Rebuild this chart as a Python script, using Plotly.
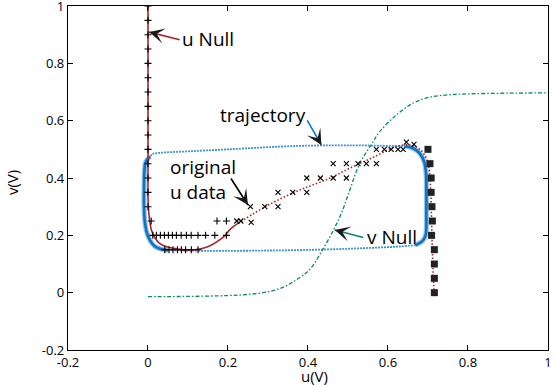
import plotly.graph_objects as go

# ---- u nullcline: solid left branch, dotted middle/right branch ----
unull_solid_u = [0.0, 0.0, 0.0, 0.0, 0.0, 0.001, 0.003, 0.0085, 0.018, 0.029, 0.045, 0.0625,
                 0.08, 0.096, 0.117, 0.1375, 0.16, 0.179, 0.193, 0.204, 0.215, 0.225]
unull_solid_v = [1.0, 0.8, 0.6, 0.4, 0.33, 0.30, 0.265, 0.219, 0.19, 0.172, 0.161, 0.155,
                 0.151, 0.149, 0.150, 0.155, 0.167, 0.184, 0.2, 0.219, 0.232, 0.242]
unull_dot_u = [0.225, 0.3, 0.379, 0.454, 0.504, 0.56, 0.621, 0.655, 0.68, 0.697, 0.704,
               0.707, 0.709, 0.711, 0.713, 0.715]
unull_dot_v = [0.242, 0.305, 0.358, 0.399, 0.434, 0.47, 0.51, 0.515, 0.5, 0.465, 0.42,
               0.35, 0.25, 0.15, 0.07, 0.0]

# ---- v nullcline ----
vnull_u = [0.0, 0.1, 0.2, 0.25, 0.3, 0.34, 0.362, 0.385, 0.407, 0.4375, 0.465, 0.483, 0.5,
           0.53, 0.56, 0.579, 0.621, 0.6625, 0.704, 0.75, 0.7875, 0.9, 1.0]
vnull_v = [-0.014, -0.013, -0.01, -0.006, 0.003, 0.02, 0.037, 0.058, 0.085, 0.152, 0.222,
           0.275, 0.34, 0.452, 0.52, 0.561, 0.62, 0.661, 0.682, 0.69, 0.693, 0.696, 0.697]

# ---- trajectory (limit cycle), split into slow and fast parts ----
traj_left_u = [0.005, -0.006, -0.009, -0.01, -0.01, -0.008, -0.004, 0.004, 0.016, 0.032, 0.05]
traj_left_v = [0.475, 0.455, 0.42, 0.36, 0.30, 0.25, 0.215, 0.185, 0.163, 0.152, 0.148]
traj_bottom_u = [0.05, 0.15, 0.3, 0.45, 0.55, 0.63, 0.668]
traj_bottom_v = [0.148, 0.146, 0.147, 0.151, 0.156, 0.161, 0.166]
traj_right_u = [0.668, 0.686, 0.694, 0.696, 0.696, 0.695, 0.691, 0.68, 0.664, 0.645]
traj_right_v = [0.166, 0.18, 0.2, 0.28, 0.36, 0.42, 0.455, 0.485, 0.503, 0.511]
traj_top_u = [0.645, 0.5, 0.375, 0.2, 0.1, 0.03, 0.012, 0.005]
traj_top_v = [0.511, 0.514, 0.512, 0.5, 0.493, 0.488, 0.484, 0.475]

# ---- original u data ----
plus_u = [0.0] * 15 + [0.008, 0.1725, 0.196] + \
         [0.012, 0.021, 0.031, 0.041, 0.051, 0.061, 0.071, 0.083, 0.096, 0.108, 0.125,
          0.144, 0.167, 0.196] + \
         [0.042, 0.0525, 0.0625, 0.0735, 0.0835, 0.094, 0.1085, 0.125]
plus_v = [1.0, 0.95, 0.9, 0.85, 0.8, 0.75, 0.7, 0.65, 0.6, 0.55, 0.5, 0.45, 0.4, 0.35, 0.3] + \
         [0.25] * 3 + [0.2] * 14 + [0.15] * 8
cross_u = [0.222, 0.232, 0.258,
           0.256, 0.292, 0.325,
           0.325, 0.362, 0.397,
           0.397, 0.431, 0.463, 0.496,
           0.463, 0.496, 0.525, 0.546, 0.571,
           0.571, 0.591, 0.608, 0.625, 0.638,
           0.646, 0.665]
cross_v = [0.25, 0.25, 0.245,
           0.3, 0.3, 0.3,
           0.35, 0.35, 0.35,
           0.4, 0.4, 0.4, 0.4,
           0.45, 0.45, 0.45, 0.45, 0.45,
           0.5, 0.5, 0.5, 0.5, 0.5,
           0.525, 0.517]
square_u = [0.700, 0.705, 0.708, 0.708, 0.710, 0.711, 0.709, 0.716, 0.716, 0.716, 0.716]
square_v = [0.5, 0.45, 0.4, 0.35, 0.3, 0.25, 0.2, 0.15, 0.1, 0.05, 0.0]

# ---- axes ----
tick_vals = [-0.2, 0, 0.2, 0.4, 0.6, 0.8, 1]
tick_text = ["-0.2", "0", "0.2", "0.4", "0.6", "0.8", "1"]

RED = "#a8262b"
GREEN = "#0b8a5c"
BLUE = "#1172c0"
BLUE_LIGHT = "#3e94da"
HEAD = "#1a1a1a"
FONT = "Open Sans"

fig = go.Figure()

# trajectory: fuzzy thick slow branches, thin dotted fast jumps
for tu, tv in [(traj_left_u, traj_left_v), (traj_right_u, traj_right_v)]:
    fig.add_trace(go.Scatter(x=tu, y=tv, mode="lines",
                             line=dict(color=BLUE_LIGHT, width=5, shape="spline"),
                             opacity=0.55, hoverinfo="skip"))
    fig.add_trace(go.Scatter(x=tu, y=tv, mode="lines",
                             line=dict(color=BLUE, width=2.6, shape="spline"),
                             hoverinfo="skip"))
for tu, tv in [(traj_bottom_u, traj_bottom_v), (traj_top_u, traj_top_v)]:
    fig.add_trace(go.Scatter(x=tu, y=tv, mode="lines",
                             line=dict(color=BLUE_LIGHT, width=1.8, dash="2px,1px", shape="spline"),
                             hoverinfo="skip"))

# v nullcline
fig.add_trace(go.Scatter(x=vnull_u, y=vnull_v, mode="lines",
                         line=dict(color=GREEN, width=1.3, dash="4px,2px,1.5px,2px", shape="spline")))

# u nullcline
fig.add_trace(go.Scatter(x=unull_solid_u, y=unull_solid_v, mode="lines",
                         line=dict(color=RED, width=1.6, shape="spline")))
fig.add_trace(go.Scatter(x=unull_dot_u, y=unull_dot_v, mode="lines",
                         line=dict(color=RED, width=1.6, dash="1.5px,2px", shape="spline")))

# original u data markers
fig.add_trace(go.Scatter(x=plus_u, y=plus_v, mode="markers",
                         marker=dict(symbol="cross-thin", size=5, line=dict(color="black", width=1.1))))
fig.add_trace(go.Scatter(x=cross_u, y=cross_v, mode="markers",
                         marker=dict(symbol="x-thin", size=5, line=dict(color="black", width=1.1))))
fig.add_trace(go.Scatter(x=square_u, y=square_v, mode="markers",
                         marker=dict(symbol="square", size=7, color="#222222")))

# labelled arrows: (tip u, tip v, tail dx px, tail dy px, line colour)
arrows = [
    (0.003, 0.909, 32, 8, RED),
    (0.4335, 0.5155, -15, -26, BLUE),
    (0.25, 0.306, -18, -28, "black"),
    (0.467, 0.219, 30, 8, GREEN),
]
annotations = []
for x, y, dx, dy, col in arrows:
    annotations.append(dict(x=x, y=y, xref="x", yref="y", ax=dx, ay=dy, text="",
                            showarrow=True, arrowhead=0, arrowwidth=1.6, arrowcolor=col))
    n = (dx * dx + dy * dy) ** 0.5
    annotations.append(dict(x=x, y=y, xref="x", yref="y", ax=dx / n * 9, ay=dy / n * 9,
                            text="", showarrow=True, arrowhead=3, arrowsize=1.6,
                            arrowwidth=1.6, arrowcolor=HEAD))

labels = [
    ("u Null", 0.08, 0.884),
    ("trajectory", 0.176, 0.62),
    ("original<br>u data", 0.051, 0.396),
    ("v Null", 0.543, 0.195),
]
for txt, x, y in labels:
    annotations.append(dict(x=x, y=y, xref="x", yref="y", text=txt, showarrow=False,
                            xanchor="left", yanchor="middle", align="left",
                            font=dict(family=FONT, size=19, color="black")))

# axis titles
annotations.append(dict(x=0.5125, y=-0.0742, xref="paper", yref="paper",
                        text="u(V)", showarrow=False, xanchor="center", yanchor="middle",
                        font=dict(family=FONT, size=15, color="black")))
annotations.append(dict(x=-0.1167, y=0.488, xref="paper", yref="paper",
                        text="v(V)", showarrow=False, textangle=-90,
                        xanchor="center", yanchor="middle",
                        font=dict(family=FONT, size=15, color="black")))

axis_common = dict(tickvals=tick_vals, ticktext=tick_text,
                   ticks="inside", ticklen=5, tickwidth=1, tickcolor="black",
                   showline=True, linecolor="black", linewidth=1.2, mirror="allticks",
                   showgrid=False, zeroline=False, ticklabeloverflow="allow",
                   automargin=False,
                   tickfont=dict(family=FONT, size=13, color="black"))

fig.update_layout(
    width=555, height=385,
    margin=dict(l=68, r=7, t=6, b=35),
    paper_bgcolor="white", plot_bgcolor="white",
    showlegend=False,
    xaxis=dict(range=[-0.2, 1.0001], **axis_common),
    yaxis=dict(range=[-0.2, 1.0001], **axis_common),
    annotations=annotations,
)

fig.write_html("out.html")
